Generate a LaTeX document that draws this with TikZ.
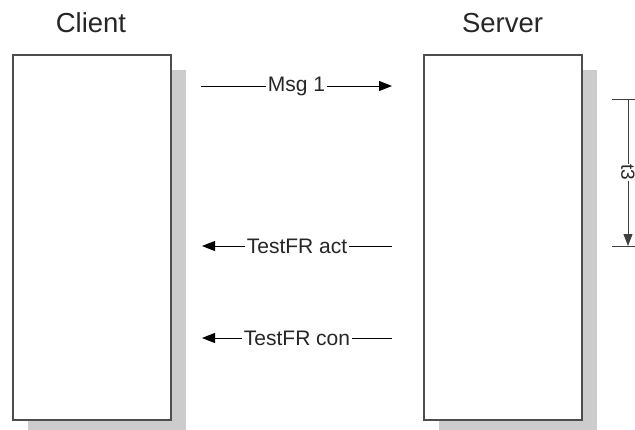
\documentclass[tikz,border=0pt]{standalone}
\usepackage{fontspec}
\setmainfont{Liberation Sans}
\usetikzlibrary{arrows.meta}
\definecolor{boxline}{HTML}{4D4D4D}
\definecolor{shadowgray}{HTML}{CCCCCC}
\tikzset{
  lifebox/.style={draw=boxline, line width=1.8pt, fill=white, minimum width=158pt, minimum height=365pt, inner sep=0pt},
  shadowbox/.style={fill=shadowgray, minimum width=158pt, minimum height=365pt, inner sep=0pt},
  title/.style={font=\fontsize{27.5}{30}\selectfont, text=black!85, anchor=base},
  msg/.style={draw=black, line width=1pt, -{Triangle[length=13pt,width=10pt]}},
  lbl/.style={fill=white, inner sep=2pt, font=\fontsize{21}{24}\selectfont, text=black!85},
  dim/.style={draw=black!75, line width=1pt}
}
\begin{document}
\begin{tikzpicture}[x=1pt,y=1pt]
\useasboundingbox (0,0) rectangle (635,-429);
% shadows
\node[shadowbox, anchor=north west] at (28,-70) {};
\node[shadowbox, anchor=north west] at (439,-70) {};
% boxes
\node[lifebox, anchor=north west] (client) at (12,-54) {};
\node[lifebox, anchor=north west] (server) at (423,-54) {};
% titles
\node[title] (ct) at (91,-32) {Client};
\node[title] (st) at (502.5,-32) {Server};
% messages
\coordinate (m1a) at (201,-86);
\coordinate (m1b) at (392,-86);
\draw[msg] (m1a) -- node[lbl] {Msg 1} (m1b);
\coordinate (m2a) at (392,-246);
\coordinate (m2b) at (202,-246);
\draw[msg] (m2a) -- node[lbl] {TestFR act} (m2b);
\coordinate (m3a) at (392,-338);
\coordinate (m3b) at (202,-338);
\draw[msg] (m3a) -- node[lbl] {TestFR con} (m3b);
% t3 dimension
\coordinate (tt1) at (612,-99);
\coordinate (tt2) at (635,-99);
\coordinate (tb1) at (612,-246);
\coordinate (tb2) at (635,-246);
\coordinate (tv1) at (628,-99);
\coordinate (tv2) at (628,-246);
\draw[dim] (tt1) -- (tt2);
\draw[dim] (tb1) -- (tb2);
\draw[dim, -{Triangle[length=12pt,width=9pt]}] (tv1) -- node[fill=white, inner sep=1pt, rotate=-90, font=\fontsize{19}{21}\selectfont, text=black!85] {t3} (tv2);
\end{tikzpicture}
\end{document}
